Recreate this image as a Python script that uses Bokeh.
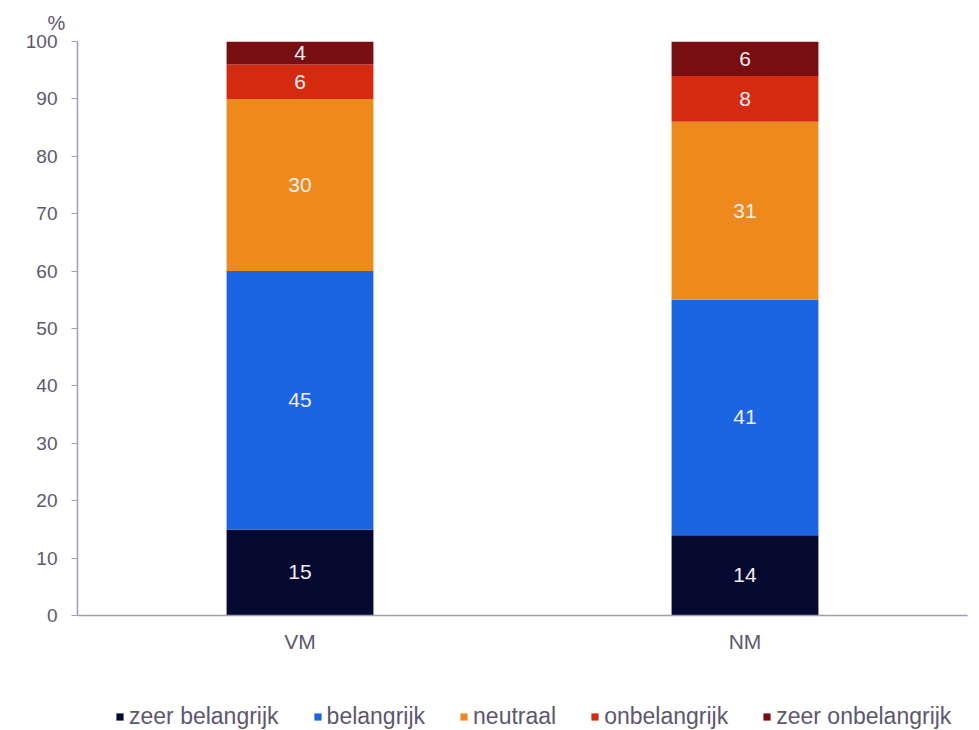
from bokeh.plotting import figure
from bokeh.models import ColumnDataSource, FactorRange, Range1d, Title, Legend, LegendItem, FixedTicker
from bokeh.layouts import column
from bokeh.core.properties import value
from bokeh.embed import file_html
from bokeh.resources import INLINE
import numpy as np

categories = ["VM", "NM"]
series = ["zeer belangrijk", "belangrijk", "neutraal", "onbelangrijk", "zeer onbelangrijk"]
zeer_belangrijk = [15, 14]
belangrijk = [45, 41]
neutraal = [30, 31]
onbelangrijk = [6, 8]
zeer_onbelangrijk = [4, 6]
y_ticks = [0, 10, 20, 30, 40, 50, 60, 70, 80, 90, 100]

colors = ["#070a30", "#1b64e2", "#ee8a1c", "#d42b10", "#780d12"]
keys = ["zb", "b", "n", "ob", "zob"]
values = [zeer_belangrijk, belangrijk, neutraal, onbelangrijk, zeer_onbelangrijk]

data = {"cat": categories}
for k, v in zip(keys, values):
    data[k] = v
source = ColumnDataSource(data)

FONT = "Liberation Sans"
TEXT_COL = "#5e5770"
AXIS_COL = "#a49bb6"

p = figure(x_range=FactorRange(*categories, range_padding=0), y_range=Range1d(0, 100),
           width=971, height=680, output_backend="svg", toolbar_location=None,
           min_border_left=77, min_border_right=4, min_border_top=41, min_border_bottom=65)

renderers = p.vbar_stack(keys, x="cat", width=0.33, source=source, color=colors, line_color=None)

# labels in segments
cum = np.zeros(len(categories))
lx, ly, lt = [], [], []
for v in values:
    arr = np.array(v, dtype=float)
    for i, c in enumerate(categories):
        lx.append(c)
        ly.append(cum[i] + arr[i] / 2)
        lt.append(str(v[i]))
    cum += arr
lsrc = ColumnDataSource(dict(x=lx, y=ly, t=lt))
p.text(x="x", y="y", text="t", source=lsrc, text_align="center", text_baseline="middle",
       text_color="#f3edf3", text_font=value(FONT), text_font_size="21px")

p.grid.visible = False
p.outline_line_color = None
p.background_fill_color = "white"

p.yaxis.ticker = FixedTicker(ticks=y_ticks)
p.yaxis.minor_tick_line_color = None
p.yaxis.major_tick_out = 6
p.yaxis.major_tick_in = 0
p.yaxis.axis_line_color = AXIS_COL
p.yaxis.axis_line_width = 1.5
p.yaxis.major_tick_line_color = AXIS_COL
p.yaxis.major_label_text_font = FONT
p.yaxis.major_label_text_font_size = "19px"
p.yaxis.major_label_text_color = TEXT_COL
p.yaxis.major_label_standoff = 14

p.xaxis.axis_line_color = AXIS_COL
p.xaxis.axis_line_width = 1.5
p.xaxis.major_tick_line_color = None
p.xaxis.minor_tick_line_color = None
p.xaxis.major_label_text_font = FONT
p.xaxis.major_label_text_font_size = "21px"
p.xaxis.major_label_text_color = TEXT_COL
p.xaxis.major_label_standoff = 8

pct = Title(text="%", align="left", offset=-30, standoff=16, text_font=FONT,
            text_font_size="20px", text_font_style="normal", text_color=TEXT_COL)
p.add_layout(pct, "above")

# legend strip (separate figure; its bars lie far outside its visible y range)
p2 = figure(x_range=FactorRange(*categories), y_range=Range1d(300, 400),
            width=971, height=50, output_backend="svg", toolbar_location=None,
            x_axis_location=None, y_axis_location=None, min_border=0)
p2.grid.visible = False
p2.outline_line_color = None
lrend = p2.vbar_stack(keys, x="cat", width=0.33, source=source, color=colors, line_color=None)

items = [LegendItem(label=s, renderers=[r]) for s, r in zip(series, lrend)]
legend = Legend(items=items, orientation="horizontal", location=(38, 0),
                glyph_width=9, glyph_height=9, label_standoff=5, spacing=34,
                padding=0, margin=0, border_line_color=None, background_fill_alpha=0,
                label_text_font=FONT, label_text_font_size="23px", label_text_color=TEXT_COL)
p2.add_layout(legend, "center")

open("out.html", "w").write(file_html(column(p, p2, spacing=0), INLINE))
